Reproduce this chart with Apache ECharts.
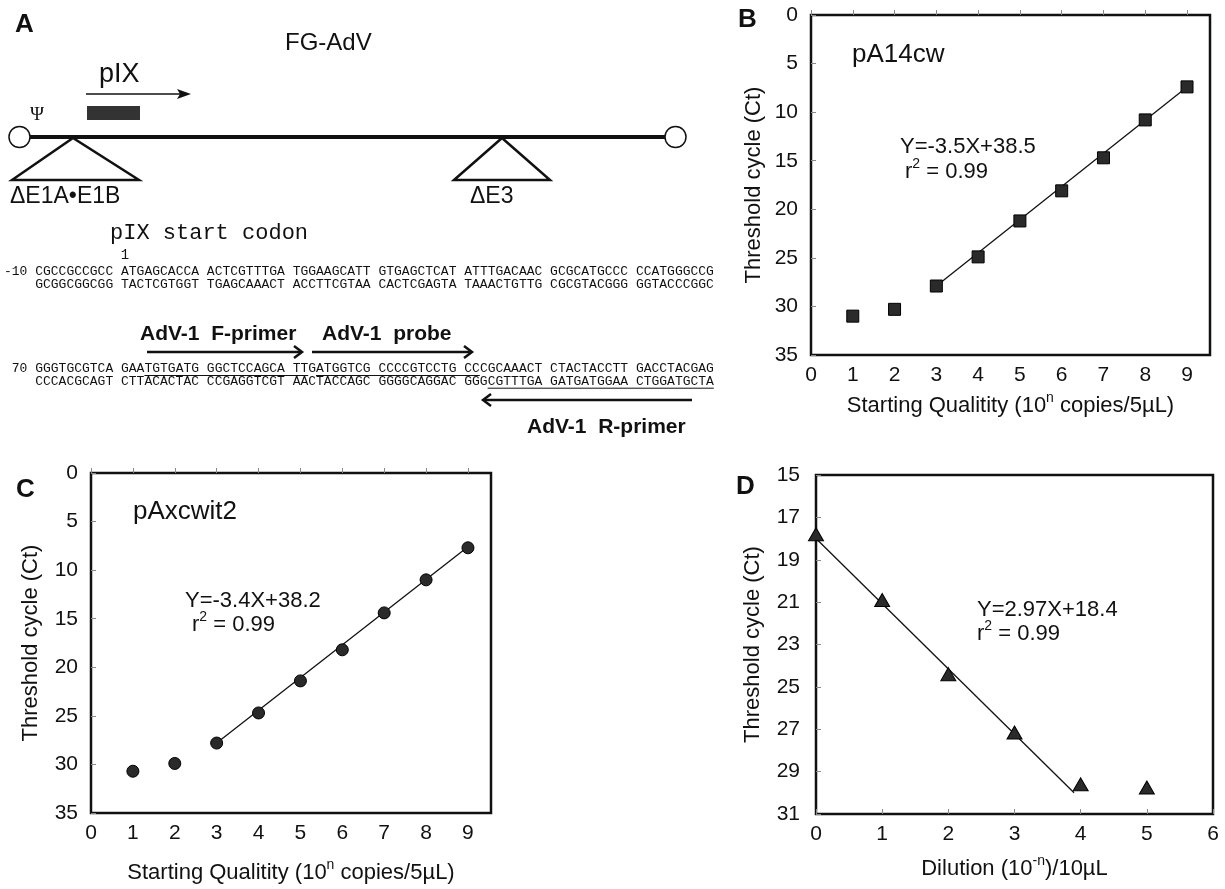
<!DOCTYPE html>
<html>
<head>
<meta charset="utf-8">
<script src="https://cdn.jsdelivr.net/npm/echarts@6/dist/echarts.min.js"></script>
<style>
  html, body { margin: 0; padding: 0; background: #fff; }
  #main { width: 1225px; height: 889px; }
</style>
</head>
<body>
<div id="main"></div>
<script>
// ---- data ----
var copiesN = [1, 2, 3, 4, 5, 6, 7, 8, 9];
var ctB = [31.0, 30.3, 27.9, 24.9, 21.2, 18.1, 14.7, 10.8, 7.4];
var fitB = [[3, 27.9], [9, 7.4]];
var ctC = [30.7, 29.9, 27.8, 24.7, 21.4, 18.2, 14.4, 11.0, 7.7];
var fitC = [[3, 27.8], [9, 7.6]];
var dilutionN = [0, 1, 2, 3, 4, 5];
var ctD = [17.8, 20.9, 24.4, 27.15, 29.6, 29.75];
var fitD = [[0, 18.0], [3.9, 30.0]];

var xTicksBC = [0, 1, 2, 3, 4, 5, 6, 7, 8, 9];
var yTicksBC = [0, 5, 10, 15, 20, 25, 30, 35];
var xTicksD = [0, 1, 2, 3, 4, 5, 6];
var yTicksD = [15, 17, 19, 21, 23, 25, 27, 29, 31];

var seqLines = [
  '-10 CGCCGCCGCC ATGAGCACCA ACTCGTTTGA TGGAAGCATT GTGAGCTCAT ATTTGACAAC GCGCATGCCC CCATGGGCCG',
  '    GCGGCGGCGG TACTCGTGGT TGAGCAAACT ACCTTCGTAA CACTCGAGTA TAAACTGTTG CGCGTACGGG GGTACCCGGC',
  ' 70 GGGTGCGTCA GAATGTGATG GGCTCCAGCA TTGATGGTCG CCCCGTCCTG CCCGCAAACT CTACTACCTT GACCTACGAG',
  '    CCCACGCAGT CTTACACTAC CCGAGGTCGT AACTACCAGC GGGGCAGGAC GGGCGTTTGA GATGATGGAA CTGGATGCTA'
];
// underlined stretches: [line, first char, last char]
var underlines = [[2, 18, 38], [2, 40, 60], [3, 62, 90]];

var SANS = "'Liberation Sans', Arial, Helvetica, sans-serif";
var MONO = "'Liberation Mono', 'DejaVu Sans Mono', monospace";
var INK = '#111';

var chart = echarts.init(document.getElementById('main'));

function pairs(xs, ys) {
  return xs.map(function (x, i) { return [x, ys[i]]; });
}

// superscripts: tall line for normal text, small token pinned to the line top
var richSup = {
  a: { fontSize: 22, fontFamily: SANS, color: INK, lineHeight: 30 },
  s: { fontSize: 14, fontFamily: SANS, color: INK, lineHeight: 14, verticalAlign: 'top' }
};

function xAxisOf(grid, max, ticks, name, gap) {
  return {
    type: 'value', gridIndex: grid, min: 0, max: max,
    axisLine: { show: false },
    splitLine: { show: false },
    axisTick: { customValues: ticks, inside: true, length: 5, lineStyle: { color: '#888', width: 1 } },
    axisLabel: { customValues: ticks, margin: 10, fontSize: 21, fontFamily: SANS, color: INK },
    name: name, nameLocation: 'middle', nameGap: gap,
    nameTextStyle: { fontSize: 22, fontFamily: SANS, color: INK, rich: richSup }
  };
}
function yAxisOf(grid, min, max, ticks, gap, margin) {
  return {
    type: 'value', gridIndex: grid, min: min, max: max, inverse: true,
    axisLine: { show: false },
    splitLine: { show: false },
    axisTick: { customValues: ticks, inside: true, length: 5, lineStyle: { color: '#888', width: 1 } },
    axisLabel: { customValues: ticks, margin: margin, fontSize: 21, fontFamily: SANS, color: INK },
    name: 'Threshold cycle (Ct)', nameLocation: 'middle', nameGap: gap,
    nameTextStyle: { fontSize: 22, fontFamily: SANS, color: INK }
  };
}
function dots(i, data, symbol, size) {
  return {
    type: 'scatter', xAxisIndex: i, yAxisIndex: i, data: data,
    symbol: symbol, symbolSize: size, z: 3,
    itemStyle: { color: '#2a2a2a', borderColor: '#000', borderWidth: 1, opacity: 1 }
  };
}
function fit(i, data) {
  return {
    type: 'line', xAxisIndex: i, yAxisIndex: i, data: data, symbol: 'none', z: 2,
    lineStyle: { color: INK, width: 1.3 }
  };
}

// ---- panel A drawing + text annotations ----
function txt(x, y, text, size, extra) {
  var st = {
    text: text, fontSize: size, fontFamily: SANS, fill: INK,
    align: 'left', verticalAlign: 'middle', textAlign: 'left', textVerticalAlign: 'middle'
  };
  for (var k in extra) st[k] = extra[k];
  return { type: 'text', x: x, y: y, z: 10, style: st };
}
function seg(x1, y1, x2, y2, w) {
  return { type: 'line', z: 10, shape: { x1: x1, y1: y1, x2: x2, y2: y2 }, style: { stroke: INK, lineWidth: w } };
}
function chevron(pts, w) {
  return { type: 'polyline', z: 10, shape: { points: pts }, style: { stroke: INK, lineWidth: w, fill: null } };
}

var g = [];
// panel letters
g.push(txt(15, 25, 'A', 26, { fontWeight: 'bold' }));
g.push(txt(738, 20, 'B', 26, { fontWeight: 'bold' }));
g.push(txt(16, 490, 'C', 26, { fontWeight: 'bold' }));
g.push(txt(736, 487, 'D', 26, { fontWeight: 'bold' }));

// genome map
g.push(txt(285, 43, 'FG-AdV', 24));
g.push(txt(99, 75, 'pIX', 27));
g.push(seg(86, 94, 184, 94, 1.5));
g.push({ type: 'polygon', z: 10, shape: { points: [[191, 94], [177, 89], [180, 94], [177, 99]] }, style: { fill: INK } });
g.push({ type: 'rect', z: 10, shape: { x: 87, y: 106, width: 53, height: 14 }, style: { fill: '#333' } });
g.push(txt(30, 115, '\u03A8', 19, { fontFamily: "'Liberation Serif', 'DejaVu Serif', serif" }));
g.push(seg(30, 137, 665, 137, 4));
g.push({ type: 'circle', z: 11, shape: { cx: 19.5, cy: 137, r: 10.5 }, style: { fill: '#fff', stroke: INK, lineWidth: 1.5 } });
g.push({ type: 'circle', z: 11, shape: { cx: 675.5, cy: 137, r: 10.5 }, style: { fill: '#fff', stroke: INK, lineWidth: 1.5 } });
g.push({ type: 'polygon', z: 10, shape: { points: [[12, 180], [73, 138], [139, 180]] }, style: { fill: null, stroke: INK, lineWidth: 2.5 } });
g.push({ type: 'polygon', z: 10, shape: { points: [[454, 180], [502, 138], [550, 180]] }, style: { fill: null, stroke: INK, lineWidth: 2.5 } });
g.push(txt(10, 197, '\u0394E1A\u2022E1B', 23));
g.push(txt(470, 197, '\u0394E3', 23));

// sequence block
var cw = 13 * 0.6, x0 = 4;
var seqY = [271.7, 284.3, 369, 381.7];
g.push(txt(110, 233, 'pIX start codon', 22, { fontFamily: MONO }));
g.push(txt(x0 + 15.5 * cw, 255, '1', 14, { fontFamily: MONO, align: 'center', textAlign: 'center' }));
seqLines.forEach(function (s, i) {
  var t = s.replace(/^ +/, '');
  g.push(txt(x0 + (s.length - t.length) * cw, seqY[i], t, 13, { fontFamily: MONO }));
});
underlines.forEach(function (u) {
  var y = seqY[u[0]] + 6.5;
  g.push(seg(x0 + u[1] * cw, y, x0 + (u[2] + 1) * cw, y, 1));
});
g.push(txt(140, 334, 'AdV-1  F-primer', 21, { fontWeight: 'bold' }));
g.push(txt(322, 334, 'AdV-1  probe', 21, { fontWeight: 'bold' }));
g.push(seg(147, 352, 301, 352, 2.5));
g.push(chevron([[294, 346], [302, 352], [294, 358]], 2.5));
g.push(seg(312, 352, 471, 352, 2.5));
g.push(chevron([[464, 346], [472, 352], [464, 358]], 2.5));
g.push(seg(484, 400, 692, 400, 2.5));
g.push(chevron([[491, 394], [483, 400], [491, 406]], 2.5));
g.push(txt(527, 427, 'AdV-1  R-primer', 21, { fontWeight: 'bold' }));

// plot annotations
g.push(txt(852, 55, 'pA14cw', 26));
g.push(txt(900, 147, 'Y=-3.5X+38.5', 22));
g.push(txt(905, 172, '{a|r}{s|2}{a| = 0.99}', 22, { rich: richSup }));
g.push(txt(133, 512, 'pAxcwit2', 26));
g.push(txt(185, 601, 'Y=-3.4X+38.2', 22));
g.push(txt(192, 625, '{a|r}{s|2}{a| = 0.99}', 22, { rich: richSup }));
g.push(txt(977, 610, 'Y=2.97X+18.4', 22));
g.push(txt(977, 634, '{a|r}{s|2}{a| = 0.99}', 22, { rich: richSup }));

var gridStyle = { show: true, borderColor: INK, borderWidth: 2.5, backgroundColor: 'transparent' };

var option = {
  animation: false,
  backgroundColor: '#fff',
  grid: [
    Object.assign({ left: 811, top: 15, width: 399, height: 340 }, gridStyle),
    Object.assign({ left: 91, top: 473, width: 400, height: 340 }, gridStyle),
    Object.assign({ left: 816, top: 475, width: 397, height: 339 }, gridStyle)
  ],
  xAxis: [
    xAxisOf(0, 9.55, xTicksBC, '{a|Starting Qualitity (10}{s|n}{a| copies/5\u00B5L)}', 36),
    xAxisOf(1, 9.55, xTicksBC, '{a|Starting Qualitity (10}{s|n}{a| copies/5\u00B5L)}', 45),
    xAxisOf(2, 6, xTicksD, '{a|Dilution (10}{s|-n}{a|)/10\u00B5L}', 40)
  ],
  yAxis: [
    yAxisOf(0, 0, 35, yTicksBC, 46, 13),
    yAxisOf(1, 0, 35, yTicksBC, 49, 13),
    yAxisOf(2, 15, 31, yTicksD, 52, 16)
  ],
  series: [
    fit(0, fitB),
    dots(0, pairs(copiesN, ctB), 'rect', 12),
    fit(1, fitC),
    dots(1, pairs(copiesN, ctC), 'circle', 12),
    fit(2, fitD),
    dots(2, pairs(dilutionN, ctD), 'triangle', [15, 13])
  ],
  graphic: g
};
chart.setOption(option);
</script>
</body>
</html>
